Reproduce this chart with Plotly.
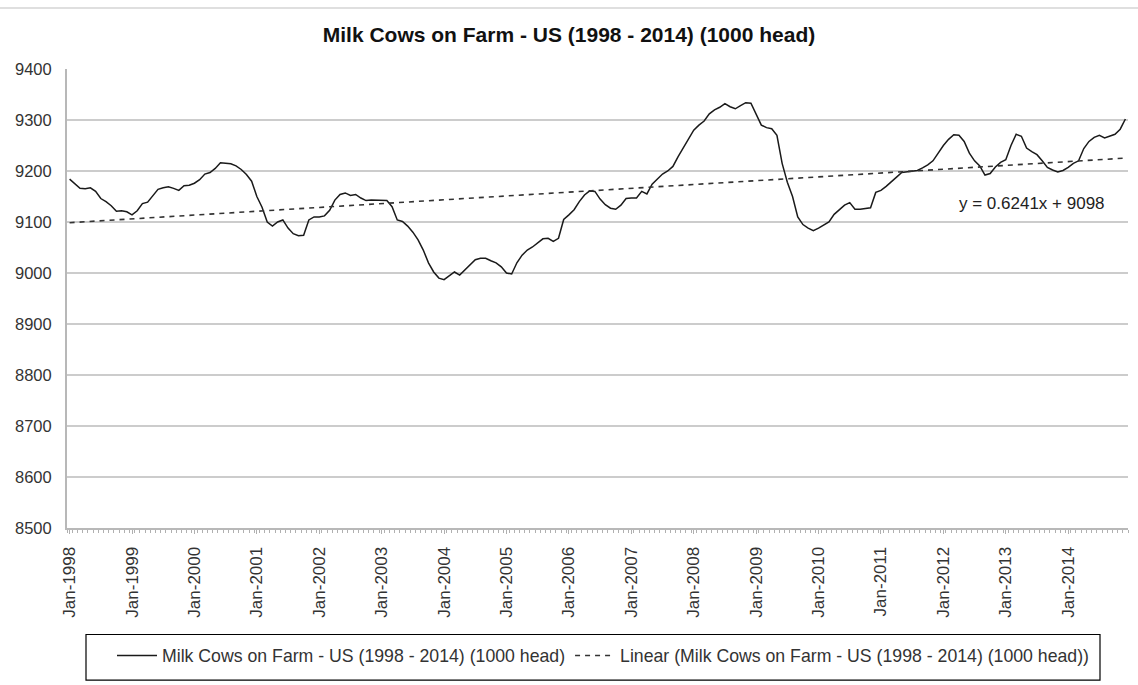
import plotly.graph_objects as go

# Monthly milk cow inventory, US, Jan-1998 .. Dec-2014 (1000 head)
years = list(range(1998, 2015))
month_labels = [f"Jan-{y}" for y in years]

milk_cows = [
    # 1998
    9184, 9175, 9166, 9165, 9167, 9160, 9146, 9140, 9132, 9121, 9122, 9120,
    # 1999
    9114, 9122, 9136, 9139, 9152, 9164, 9167, 9169, 9166, 9162, 9171, 9172,
    # 2000
    9176, 9183, 9194, 9197, 9205, 9216, 9215, 9214, 9210, 9203, 9193, 9180,
    # 2001
    9150, 9129, 9100, 9092, 9100, 9104, 9088, 9077, 9073, 9074, 9104, 9110,
    # 2002
    9110, 9112, 9123, 9143, 9154, 9157, 9152, 9154, 9147, 9142, 9143, 9143,
    # 2003
    9143, 9142, 9130, 9104, 9101, 9092, 9080, 9065, 9045, 9020, 9002, 8990,
    # 2004
    8987, 8994, 9002, 8996, 9006, 9017, 9026, 9029, 9029, 9024, 9020, 9012,
    # 2005
    9000, 8998, 9020, 9035, 9045, 9051, 9059, 9067, 9068, 9062, 9068, 9105,
    # 2006
    9114, 9124, 9140, 9153, 9161, 9160, 9145, 9134, 9127, 9125, 9133, 9146,
    # 2007
    9147, 9147, 9160, 9155, 9174, 9185, 9194, 9200, 9209, 9228, 9245, 9262,
    # 2008
    9280, 9290, 9298, 9312, 9320, 9325, 9332, 9326, 9322, 9328, 9334, 9333,
    # 2009
    9310, 9290, 9285, 9283, 9270, 9215, 9178, 9150, 9110, 9095, 9088, 9083,
    # 2010
    9088, 9094, 9100, 9115, 9125, 9133, 9138, 9125, 9125, 9126, 9128, 9158,
    # 2011
    9162, 9170, 9180, 9188, 9197, 9198, 9199, 9201, 9206, 9212, 9220, 9235,
    # 2012
    9250, 9262, 9271, 9270, 9258, 9235, 9220, 9210, 9192, 9195, 9208, 9217,
    # 2013
    9222, 9250, 9272, 9268, 9245, 9238, 9232, 9220, 9207, 9202, 9198, 9201,
    # 2014
    9207, 9215, 9220, 9244, 9258, 9266, 9270, 9265, 9268, 9272, 9282, 9302,
]

# Linear trendline coefficients (x = 1 .. n)
trend_slope = 0.6241
trend_intercept = 9098

series_name = "Milk Cows on Farm - US (1998 - 2014) (1000 head)"
trend_name = "Linear (Milk Cows on Farm - US (1998 - 2014) (1000 head))"

n = len(milk_cows)
idx = list(range(n))
trend = [trend_slope * (i + 1) + trend_intercept for i in idx]

FONT = "Liberation Sans, Arial, sans-serif"

# plot area in pixels: left 67, right 1128, top 69, bottom 543
PLOT_W, PLOT_H, PLOT_L, PLOT_B = 1061, 474, 67, 543


def px_x(px):
    return (px - PLOT_L) / PLOT_W


def px_y(py):
    return (PLOT_B - py) / PLOT_H


fig = go.Figure()
fig.add_trace(go.Scatter(
    x=idx, y=milk_cows, mode="lines", name=series_name,
    line=dict(color="#1a1a1a", width=1.5),
))
fig.add_trace(go.Scatter(
    x=idx, y=trend, mode="lines", name=trend_name,
    line=dict(color="#333333", width=1.6, dash="5px,5px"),
))

fig.update_layout(
    width=1138, height=685,
    margin=dict(l=67, r=10, t=69, b=142),
    paper_bgcolor="white", plot_bgcolor="white",
    font=dict(family=FONT, size=17, color="#333333"),
    title=dict(
        text="<b>" + series_name + "</b>",
        x=0.5, xanchor="center", y=0.949, yanchor="middle",
        font=dict(family=FONT, size=21, color="#111111"),
    ),
    showlegend=True,
    legend=dict(
        orientation="h", x=px_x(112), xanchor="left",
        y=px_y(656), yanchor="top",
        borderwidth=0, bgcolor="rgba(0,0,0,0)",
        font=dict(family=FONT, size=17.7, color="#333333"),
        itemwidth=40, tracegroupgap=0,
    ),
    xaxis=dict(
        range=[-0.5, n - 0.5],
        tickmode="array",
        tickvals=[12 * k for k in range(len(month_labels))],
        ticktext=month_labels,
        tickangle=-90,
        ticks="outside", ticklen=4, tickcolor="#b0b0b0",
        ticklabelstandoff=6,
        minor=dict(dtick=1, tick0=-0.5, ticks="outside", ticklen=3,
                   tickcolor="#b0b0b0"),
        showgrid=False, zeroline=False,
        showline=True, linecolor="#b8b8b8", linewidth=2,
        tickfont=dict(family=FONT, size=17, color="#333333"),
    ),
    yaxis=dict(
        range=[8500, 9400], dtick=100, tick0=8500,
        showgrid=True, gridcolor="#cccccc", gridwidth=2,
        zeroline=False,
        showline=True, linecolor="#b8b8b8", linewidth=2,
        ticks="", ticklabelstandoff=10,
        tickfont=dict(family=FONT, size=16.5, color="#333333"),
    ),
    annotations=[dict(
        x=185, y=9136, xref="x", yref="y",
        text=f"y = {trend_slope}x + {trend_intercept}",
        showarrow=False, xanchor="center", yanchor="middle",
        font=dict(family=FONT, size=17, color="#222222"),
    )],
    shapes=[
        # thin rule across the top of the chart
        dict(type="line", xref="paper", yref="paper",
             x0=px_x(0), x1=px_x(1138), y0=px_y(6), y1=px_y(6),
             line=dict(color="#d4d4d4", width=1.5)),
        # legend frame
        dict(type="rect", xref="paper", yref="paper",
             x0=px_x(86), x1=px_x(1100), y0=px_y(653), y1=px_y(700),
             line=dict(color="#000000", width=1.2), fillcolor="rgba(0,0,0,0)"),
    ],
)

fig.write_html("out.html")
